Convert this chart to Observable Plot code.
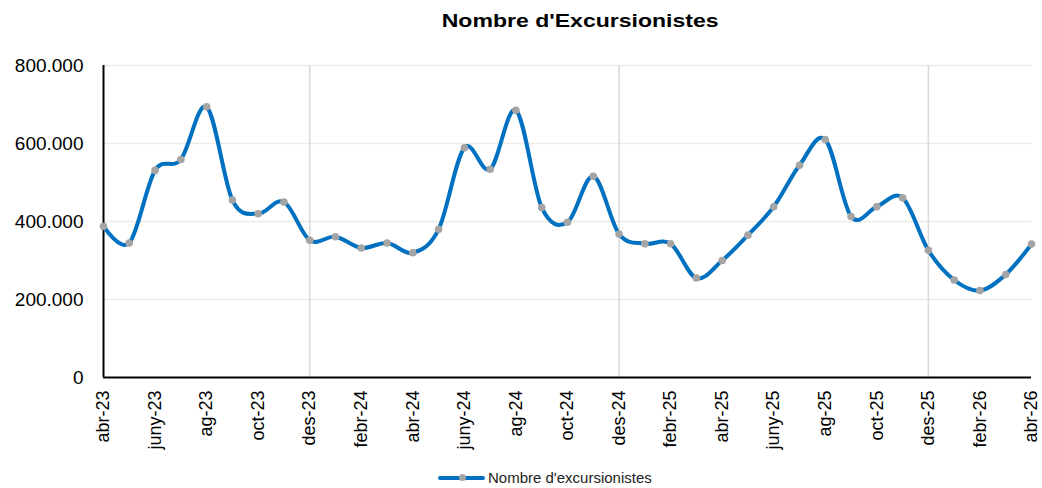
<!DOCTYPE html>
<html><head><meta charset="utf-8">
<script src="https://cdn.jsdelivr.net/npm/d3@7"></script>
<script src="https://cdn.jsdelivr.net/npm/@observablehq/plot@0.6"></script>
<style>
body{margin:0;background:#fff;font-family:"Liberation Sans",Arial,sans-serif;}
#wrap{position:relative;width:1042px;height:488px;overflow:hidden;background:#fff;}
#chart{position:absolute;left:0;top:0;}
#title{position:absolute;left:0;top:12px;width:1042px;text-align:center;font-weight:bold;font-size:18px;line-height:18px;color:#000;}
#title span{display:inline-block;transform:scaleX(1.28);transform-origin:center;position:relative;left:59px;}
#legend{position:absolute;left:0;top:0;}
#legline{position:absolute;left:438px;top:475.7px;width:47px;height:4px;background:#0070C0;border-radius:2px;}
#legdot{position:absolute;left:458.5px;top:474.2px;width:7px;height:7px;border-radius:50%;background:#A5A5A5;}
#legtext{position:absolute;left:488px;top:470px;font-size:15px;line-height:15px;color:#222;white-space:nowrap;}
</style></head>
<body><div id="wrap">
<div id="chart"></div>
<div id="title"><span>Nombre d'Excursionistes</span></div>
<div id="legend"><div id="legline"></div><div id="legdot"></div><div id="legtext">Nombre d'excursionistes</div></div>
</div>
<script>
const months = ["abr-23","maig-23","juny-23","jul-23","ag-23","set-23","oct-23","nov-23","des-23",
  "gen-24","febr-24","març-24","abr-24","maig-24","juny-24","jul-24","ag-24","set-24","oct-24","nov-24","des-24",
  "gen-25","febr-25","març-25","abr-25","maig-25","juny-25","jul-25","ag-25","set-25","oct-25","nov-25","des-25",
  "gen-26","febr-26","març-26","abr-26"];
const values = [388000,345000,531000,559000,694000,455000,420000,450000,352000,
  361000,332000,345000,320000,380000,589000,534000,685000,436000,398000,516000,368000,
  343000,343000,255000,300000,365000,438000,544000,610000,413000,438000,461000,326000,
  250000,223000,264000,342000];
const xTickLabels = ["abr-23","juny-23","ag-23","oct-23","des-23","febr-24","abr-24","juny-24","ag-24","oct-24",
  "des-24","febr-25","abr-25","juny-25","ag-25","oct-25","des-25","febr-26","abr-26"];
const yTicks = [0,200000,400000,600000,800000];
const gridMonths = ["des-23","des-24","des-25"];

const data = months.map((m,i)=>({i, month:m, value:values[i]}));
const idx = m => months.indexOf(m);
const fmt = d3.formatLocale({decimal:",",thousands:".",grouping:[3],currency:["",""]}).format(",");

const chart = Plot.plot({
  width:1042, height:488,
  marginTop:65, marginBottom:111, marginLeft:103, marginRight:11,
  style:{fontFamily:"Liberation Sans, Arial, sans-serif", background:"transparent", color:"#000"},
  x:{type:"linear", domain:[0, months.length-1], label:null},
  y:{domain:[0,800000], label:null},
  marks:[
    Plot.ruleY(yTicks.slice(1),{stroke:"#ECECE4",strokeWidth:1.3}),
    Plot.ruleX(gridMonths.map(idx),{y1:0,y2:800000,stroke:"#D9D9D9",strokeWidth:1.5}),
    Plot.axisY({ticks:yTicks,tickFormat:fmt,tickSize:0,tickPadding:20,fontSize:19}),
    Plot.axisX({ticks:xTickLabels.map(idx),tickFormat:i=>months[i],tickRotate:-90,tickSize:0,tickPadding:13,fontSize:18}),
    Plot.ruleX([0],{y1:0,y2:800000,stroke:"#000",strokeWidth:2}),
    Plot.ruleY([0],{stroke:"#000",strokeWidth:2}),
    Plot.line(data,{x:"i",y:"value",stroke:"#0070C0",strokeWidth:4,curve:d3.curveCatmullRom.alpha(0)}),
    Plot.dot(data,{x:"i",y:"value",fill:"#A5A5A5",r:3.8})
  ]
});
document.getElementById("chart").appendChild(chart);
</script>
</body></html>
